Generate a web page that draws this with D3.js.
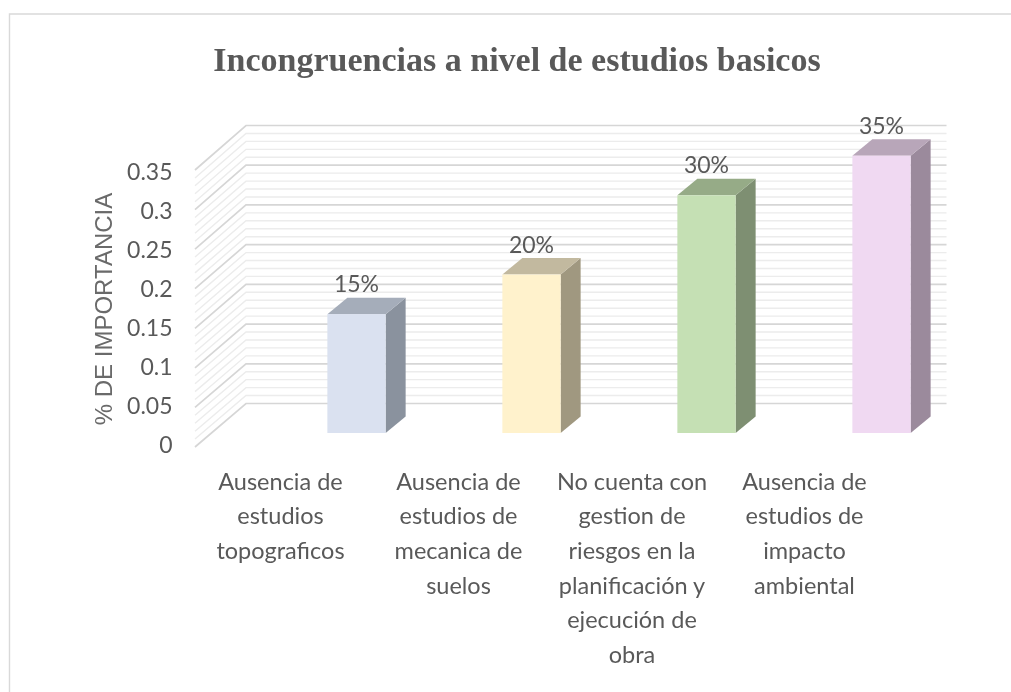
<!DOCTYPE html>
<html><head><meta charset="utf-8">
<script src="https://cdnjs.cloudflare.com/ajax/libs/d3/7.8.5/d3.min.js"></script>
<style>html,body{margin:0;padding:0;background:#fff;overflow:hidden}svg{display:block}</style>
</head><body><div id="c"></div>
<script>
const titleText = "Incongruencias a nivel de estudios basicos";
const axisTitle = "% DE IMPORTANCIA";
const categories = ["c1","c2","c3","c4"];
const categoryLines = [
  ["Ausencia de","estudios","topograficos"],
  ["Ausencia de","estudios de","mecanica de","suelos"],
  ["No cuenta con","gestion de","riesgos en la","planificación y","ejecución de","obra"],
  ["Ausencia de","estudios de","impacto","ambiental"]
];
const labelNudge = [0,3,1.5,-1];
const values = [0.15,0.20,0.30,0.35];
const valueLabels = ["15%","20%","30%","35%"];
const tickValues = [0,0.05,0.1,0.15,0.2,0.25,0.3,0.35];
const tickLabels = ["0","0.05","0.1","0.15","0.2","0.25","0.3","0.35"];
const minorValues = d3.range(0,36).map(i=>i/100);
const frontColors = ["#dae1f0","#fff2cc","#c5e0b4","#f0d9f2"];
const topColors = ["#a5adba","#c2b99f","#96ab87","#b8a6b9"];
const sideColors = ["#8a929e","#a09880","#7e8f72","#9b8a9c"];

const W=1011,H=692;
const svg=d3.select("#c").append("svg").attr("width",W).attr("height",H);
const g=svg.append("g").style("filter","blur(0.55px)");

// frame
g.append("path").attr("d",`M9.5,${H}V14H${W}`).attr("fill","none").attr("stroke","#d9d9d9").attr("stroke-width",1.4);

// scales
const yBack=d3.scaleLinear().domain([0,0.35]).range([403.5,125.5]);
const ySide=d3.scaleLinear().domain([0,0.35]).range([447,170]);
const yBar=d3.scaleLinear().domain([0,0.35]).range([433,155.7]);
const yTick=d3.scaleLinear().domain([0,0.35]).range([445,171.7]);
const xBar=d3.scaleBand().domain(categories).range([269,969]).paddingInner(0.667).paddingOuter(0.3335);
const xLab=d3.scaleBand().domain(categories).range([193,893]);
const wallL=246,wallR=946.5,sideL=195;

// minor then major gridlines
const major=new Set(tickValues.map(v=>Math.round(v*100)));
const drawGrid=(vals,color,width)=>{
  const s=g.append("g").attr("fill","none").attr("stroke",color).attr("stroke-width",width);
  s.selectAll("path").data(vals).join("path")
   .attr("d",v=>`M${sideL},${ySide(v)}L${wallL},${yBack(v)}L${wallR},${yBack(v)}`);
};
drawGrid(minorValues.filter(v=>!major.has(Math.round(v*100))),"#ececec",1.4);
drawGrid(tickValues,"#d6d6d6",1.7);

// bars
const dx=20,dy=-16.5;
const bars=g.append("g").selectAll("g").data(values).join("g");
const bw=xBar.bandwidth();
bars.append("path").attr("fill",(d,i)=>sideColors[i]).attr("d",(d,i)=>{
  const x=xBar(categories[i])+bw,t=yBar(d),b=yBar(0);
  return `M${x},${t}l${dx},${dy}V${b+dy}L${x},${b}Z`;});
bars.append("path").attr("fill",(d,i)=>topColors[i]).attr("d",(d,i)=>{
  const x=xBar(categories[i]),t=yBar(d);
  return `M${x},${t}l${dx},${dy}h${bw}l${-dx},${-dy}Z`;});
bars.append("rect").attr("fill",(d,i)=>frontColors[i])
  .attr("x",(d,i)=>xBar(categories[i])).attr("width",bw)
  .attr("y",d=>yBar(d)).attr("height",d=>yBar(0)-yBar(d));
bars.append("text").text((d,i)=>valueLabels[i])
  .attr("x",(d,i)=>xBar(categories[i])+bw/2).attr("y",d=>yBar(d)-22)
  .attr("text-anchor","middle")
  .attr("font-family","Lato").attr("font-size",23).attr("fill","#595959");

// y ticks
g.append("g").selectAll("text").data(tickValues).join("text")
  .text((d,i)=>tickLabels[i]).attr("x",172.5).attr("y",d=>yTick(d)+8)
  .attr("text-anchor","end").attr("font-family","Lato").attr("font-size",23).attr("fill","#595959");

// axis title
g.append("text").text(axisTitle).attr("transform","translate(112,309) rotate(-90)")
  .attr("text-anchor","middle").attr("font-family","Liberation Sans").attr("font-size",24).attr("fill","#6a6a6a");

// chart title
g.append("text").text(titleText).attr("x",517).attr("y",71).attr("text-anchor","middle")
  .attr("font-family","Liberation Serif").attr("font-weight","bold").attr("font-size",34).attr("fill","#595959");

// category labels
const labelY=d3.scaleLinear().domain([0,1]).range([489.5,524.2]);
const cats=g.append("g").selectAll("g").data(categoryLines).join("g");
cats.selectAll("text").data((d,i)=>d.map((t,j)=>({t,j,c:categories[i],n:labelNudge[i]}))).join("text")
  .text(d=>d.t).attr("x",d=>xLab(d.c)+xLab.bandwidth()/2+d.n).attr("y",d=>labelY(d.j))
  .attr("text-anchor","middle").attr("font-family","Lato").attr("font-size",23.5).attr("fill","#595959");
</script></body></html>
